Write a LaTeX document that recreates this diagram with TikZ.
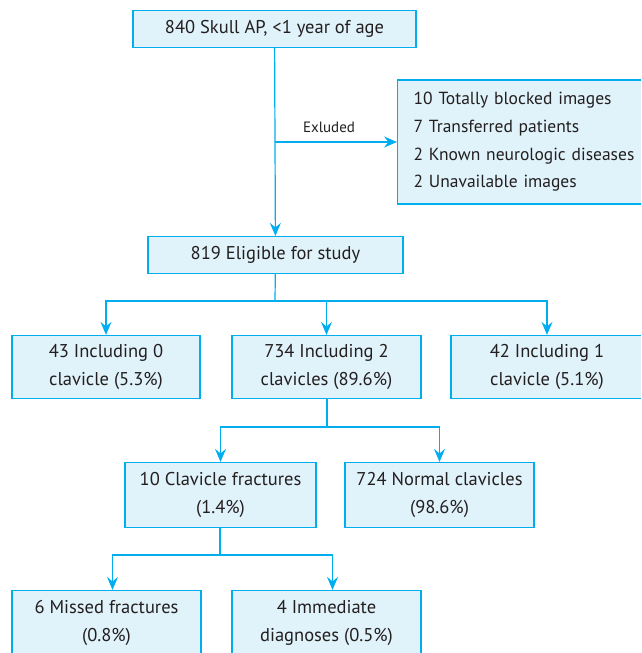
\documentclass[tikz,border=0pt]{standalone}
\usepackage{fontspec}
\setmainfont{PT Sans}
\usepackage{tikz}
\usetikzlibrary{arrows.meta}
\usetikzlibrary{positioning}

\definecolor{boxline}{RGB}{0,174,239}
\definecolor{boxfill}{RGB}{224,242,250}
\definecolor{boxtext}{RGB}{35,31,32}

\begin{document}
\begin{tikzpicture}[x=1pt,y=-1pt]
\tikzstyle{every node}=[text=boxtext,font=\fontsize{18.5}{28}\selectfont]
\tikzstyle{box}=[draw=boxline,fill=boxfill,line width=1.2pt,inner sep=0pt,align=center]
\tikzstyle{flow}=[draw=boxline,line width=1.2pt]
\tikzstyle{arr}=[flow,-{Stealth[length=13pt,width=11pt,inset=4.5pt]}]
\clip (0,0) rectangle (641,653);
% boxes
\node[box,minimum width=283pt,minimum height=37pt] (skull) at (274.5,29) {840 Skull AP, <1 year of age};
\node[box,anchor=west,minimum height=124pt,text width=270pt,align=left,
	font=\fontsize{17.5}{27.7}\selectfont] (excl) at (397,142) {\hspace*{16pt}10 Totally blocked images\\\hspace*{16pt}7 Transferred patients\\
	\hspace*{16pt}2 Known neurologic diseases\\\hspace*{16pt}2 Unavailable images};
\node[box,minimum width=255pt,minimum height=37pt] (elig) at (275.5,255) {819 Eligible for study};
\node[box,minimum width=188pt,minimum height=63pt] (zero) at (106,367) {43 Including 0\\clavicle (5.3\%)};
\node[box,minimum width=189pt,minimum height=63pt] (two) at (326.5,367) {734 Including 2\\clavicles (89.6\%)};
\node[box,minimum width=192pt,minimum height=63pt] (one) at (547,367) {42 Including 1\\clavicle (5.1\%)};
\node[box,minimum width=191pt,minimum height=65pt] (frac) at (220.5,495) {10 Clavicle fractures\\(1.4\%)};
\node[box,minimum width=189pt,minimum height=65pt] (norm) at (439.5,495) {724 Normal clavicles\\(98.6\%)};
\node[box,minimum width=189pt,minimum height=65pt] (miss) at (106.5,623) {6 Missed fractures\\(0.8\%)};
\node[box,minimum width=189pt,minimum height=65pt] (diag) at (326.5,623) {4 Immediate\\diagnoses (0.5\%)};
% connectors
\coordinate (cut) at (275,142);
\draw[arr] (skull) -- (elig);
\draw[arr] (cut) -- (excl);
\node[font=\fontsize{15}{17}\selectfont] (exl) at (329,127) {Exluded};
\coordinate (split1) at (275,301);
\draw[flow] (elig) -- (split1);
\draw[arr] (split1) -| (zero);
\draw[arr] (split1) -| (two);
\draw[arr] (split1) -| (one);
\coordinate (split2) at (327,427);
\draw[flow] (two.south -| split2) -- (split2);
\draw[arr] (split2) -| (frac);
\draw[arr] (split2) -| (norm);
\coordinate (split3) at (220,555);
\draw[flow] (frac.south -| split3) -- (split3);
\draw[arr] (split3) -| ([xshift=6pt]miss.north);
\draw[arr] (split3) -| ([xshift=6pt]diag.north);
\end{tikzpicture}
\end{document}
